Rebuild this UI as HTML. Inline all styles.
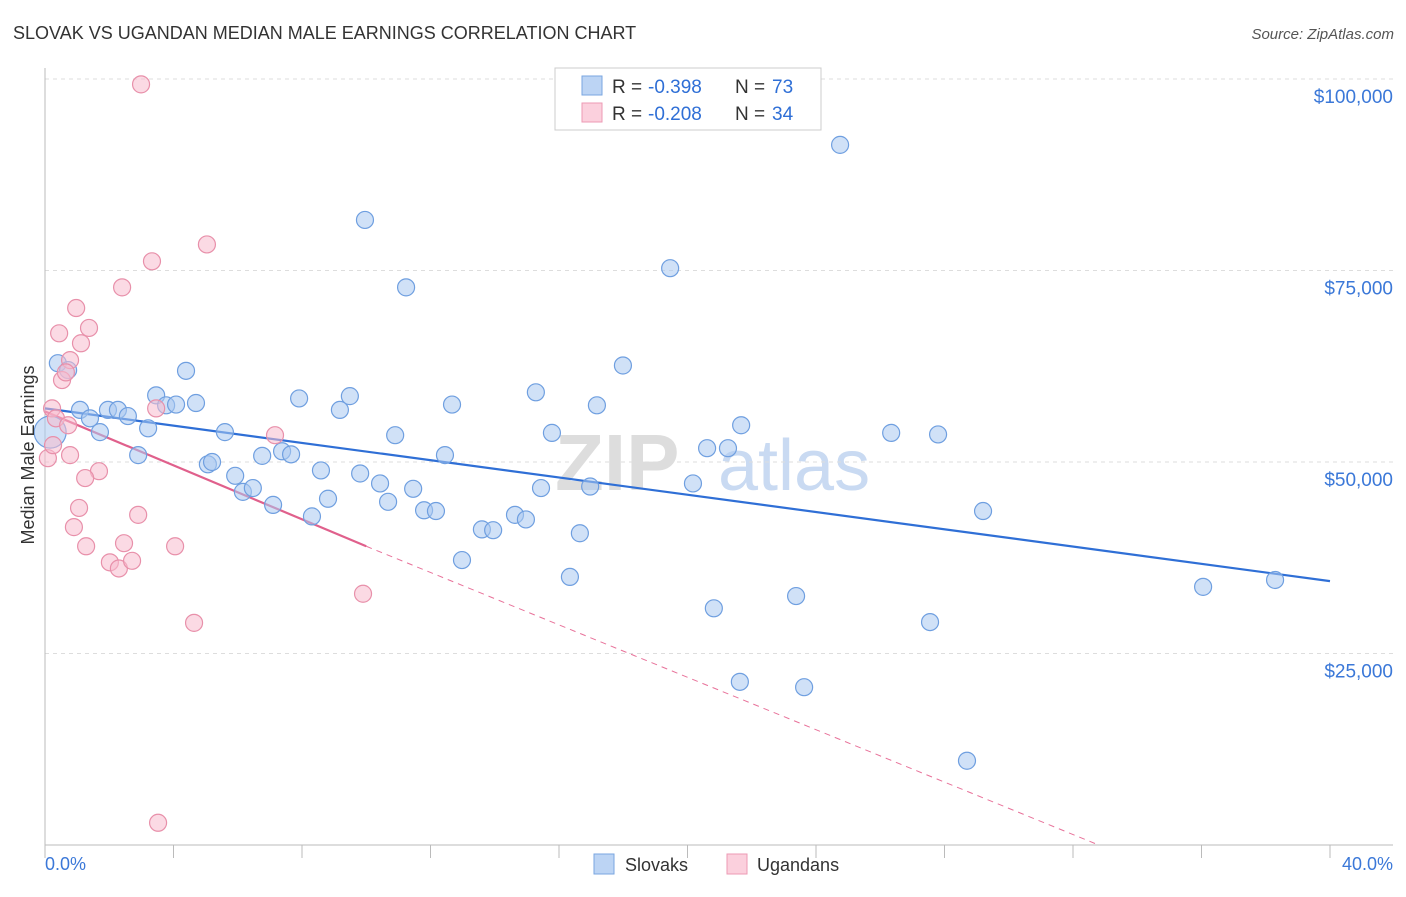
<!DOCTYPE html>
<html><head><meta charset="utf-8"><style>
body{margin:0;background:#fff;font-family:"Liberation Sans",sans-serif}
svg text{font-family:"Liberation Sans",sans-serif}
</style></head><body>
<svg id="chart" width="1406" height="892" xmlns="http://www.w3.org/2000/svg">
<text x="13" y="39" font-size="18" fill="#333">SLOVAK VS UGANDAN MEDIAN MALE EARNINGS CORRELATION CHART</text>
<text x="1394" y="39" font-size="15" fill="#555" text-anchor="end" font-style="italic">Source: ZipAtlas.com</text>
<g>
<text x="555" y="490" font-size="80" fill="#ddd" font-family="Liberation Serif" font-weight="bold">ZIP</text>
<text x="718" y="490" font-size="72" fill="#c9daf2">atlas</text>
</g>
<g id="grid"></g>
<g id="axes"></g>
<g id="lines"></g>
<g id="pts"></g>
<text transform="translate(34,455) rotate(-90)" font-size="18" fill="#333" text-anchor="middle">Median Male Earnings</text>
<text x="45" y="870" font-size="18" fill="#3b78d8">0.0%</text>
<text x="1393" y="870" font-size="18" fill="#3b78d8" text-anchor="end">40.0%</text>
<g>
<rect x="555" y="68" width="266" height="62" fill="#fff" stroke="#ccc"/>
<rect x="582" y="76" width="20" height="19" fill="#bcd4f4" stroke="#7aa6e0"/>
<rect x="582" y="103" width="20" height="19" fill="#fbd0dd" stroke="#ec9ab4"/>
<text x="612" y="93" font-size="19" fill="#333">R =</text>
<text x="648" y="93" font-size="19" fill="#2f6fd6">-0.398</text>
<text x="735" y="93" font-size="19" fill="#333">N =</text>
<text x="772" y="93" font-size="19" fill="#2f6fd6">73</text>
<text x="612" y="120" font-size="19" fill="#333">R =</text>
<text x="648" y="120" font-size="19" fill="#2f6fd6">-0.208</text>
<text x="735" y="120" font-size="19" fill="#333">N =</text>
<text x="772" y="120" font-size="19" fill="#2f6fd6">34</text>
</g>
<g>
<rect x="594" y="854" width="20" height="20" fill="#bcd4f4" stroke="#7aa6e0"/>
<text x="625" y="871" font-size="18" fill="#333">Slovaks</text>
<rect x="727" y="854" width="20" height="20" fill="#fbd0dd" stroke="#ec9ab4"/>
<text x="757" y="871" font-size="18" fill="#333">Ugandans</text>
</g>
</svg>
<script>
const yTicks=[25000,50000,75000,100000];
const yTickLabels=["$25,000","$50,000","$75,000","$100,000"];
const xTicks=[0,4,8,12,16,20,24,28,32,36,40];
const slovakX=[0.40,0.72,0.16,1.09,1.40,1.71,1.96,2.27,2.58,2.90,3.21,3.46,3.77,4.08,4.39,4.70,5.07,5.20,5.60,5.92,6.16,6.47,6.76,7.10,7.38,7.66,7.91,8.31,8.59,8.81,9.18,9.49,9.81,9.96,10.43,10.68,10.90,11.24,11.46,11.80,12.17,12.45,12.67,12.98,13.60,13.95,14.63,14.97,15.28,15.44,15.78,16.34,16.65,16.97,17.18,17.99,19.46,20.17,20.61,20.82,21.26,21.63,21.67,23.38,23.63,24.75,26.34,27.55,27.80,28.70,29.20,36.05,38.29];
const slovakY=[62900,62000,53900,56800,55700,53900,56800,56800,56000,50900,54400,58700,57400,57500,61900,57700,49700,50000,53900,48200,46100,46600,50800,44400,51400,51000,58300,42900,48900,45200,56800,58600,48500,81600,47200,44800,53500,72800,46500,43700,43600,50900,57500,37200,41200,41100,43100,42500,59100,46600,53800,35000,40700,46800,57400,62600,75300,47200,51800,30900,51800,21300,54800,32500,20600,91400,53800,29100,53600,11000,43600,33700,34600];
const ugandaX=[2.99,5.04,3.33,2.40,0.97,1.37,0.44,1.12,0.78,0.53,0.65,0.22,0.34,0.72,3.46,7.16,0.09,0.25,0.78,1.68,1.25,1.06,0.90,2.90,1.28,2.46,4.05,2.02,2.30,2.71,9.90,4.64,3.52];
const ugandaY=[99300,78400,76200,72800,70100,67500,66800,65500,63300,60700,61700,57000,55700,54800,57000,53500,50500,52200,50900,48800,47900,44000,41500,43100,39000,39400,39000,36900,36100,37100,32800,29000,2900];
const slovakTrend=[57000,34450];   // at x=0 and x=40
const ugandaTrend=[56600,39000];   // at x=0 and x=10 (solid)
const ugandaZeroX=32.8;            // dashed extension reaches 0 here
const NS="http://www.w3.org/2000/svg";
const X=v=>45+v/40*1285, Y=v=>845-v/25000*191.5;
function mk(tag,attrs,parent){const e=document.createElementNS(NS,tag);for(const k in attrs)e.setAttribute(k,attrs[k]);parent.appendChild(e);return e;}
const grid=document.getElementById('grid'),axes=document.getElementById('axes'),lines=document.getElementById('lines'),pts=document.getElementById('pts');
yTicks.forEach((t,i)=>{
 const l=mk('line',{x1:45,x2:1393,y1:Y(t),y2:Y(t),stroke:'#ddd','stroke-dasharray':'4,4'},grid);
 
 
 const tx=mk('text',{x:1393,y:Y(t)+24,'font-size':19,fill:'#3b78d8','text-anchor':'end'},grid);
 tx.textContent=yTickLabels[i];
 
 
});
mk('line',{x1:45,x2:45,y1:68,y2:845,stroke:'#bbb'},axes);
mk('line',{x1:45,x2:1393,y1:845,y2:845,stroke:'#bbb'},axes);
xTicks.forEach(t=>{
 const l=mk('line',{x1:X(t),x2:X(t),y1:845,y2:858,stroke:'#bbb'},axes);
 
 
});
function dot(x,y,r,fill,stroke){
 return mk('circle',{cx:X(x),cy:Y(y),r:r,fill:fill,'fill-opacity':0.55,stroke:stroke,'stroke-width':1.2},pts);
}
slovakX.forEach((x,i)=>{
 const c=dot(x,slovakY[i],i==2?16:8.5,'#a9c8f0','#6f9fe0');
 
 
});
ugandaX.forEach((x,i)=>{
 const c=dot(x,ugandaY[i],8.5,'#f7bccd','#e890aa');
 
 
});
const bl=mk('line',{x1:X(0),y1:Y(slovakTrend[0]),x2:X(40),y2:Y(slovakTrend[1]),stroke:'#2f6fd6','stroke-width':2.2},lines);


const pd=mk('line',{x1:X(10),y1:Y(ugandaTrend[1]),x2:X(ugandaZeroX),y2:Y(0),stroke:'#e8729a','stroke-width':1,'stroke-dasharray':'6,5'},lines);


const pl=mk('line',{x1:X(0),y1:Y(ugandaTrend[0]),x2:X(10),y2:Y(ugandaTrend[1]),stroke:'#e0608c','stroke-width':2.2},lines);


</script>
</body></html>
